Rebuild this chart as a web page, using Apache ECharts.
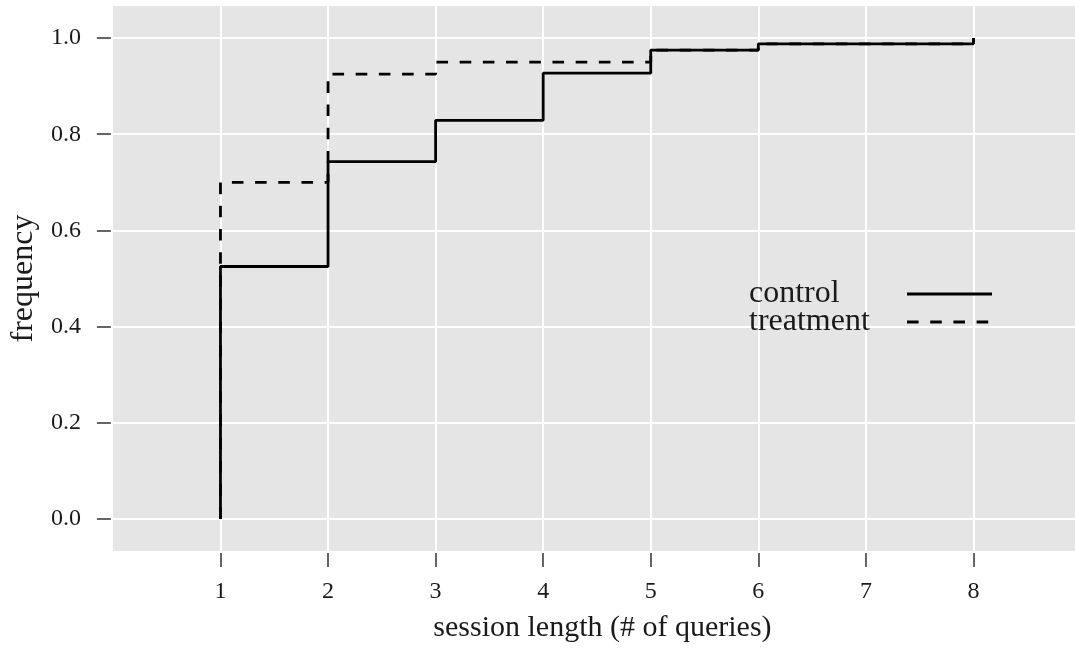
<!DOCTYPE html>
<html>
<head>
<meta charset="utf-8">
<script src="https://cdn.jsdelivr.net/npm/echarts@6/dist/echarts.min.js"></script>
<style>
  html, body { margin: 0; padding: 0; background: #ffffff; }
  #chart { width: 1075px; height: 649px; }
</style>
</head>
<body>
<div id="chart"></div>
<script>
// Cumulative share of sessions by session length (number of queries)
const sessionLength = [1, 2, 3, 4, 5, 6, 7, 8];
const controlCdf   = [0.525, 0.743, 0.829, 0.927, 0.975, 0.988, 0.988, 1.0];
const treatmentCdf = [0.700, 0.925, 0.950, 0.950, 0.975, 0.988, 0.988, 1.0];
const xTicks = [1, 2, 3, 4, 5, 6, 7, 8];
const yTicks = [0, 0.2, 0.4, 0.6, 0.8, 1.0];

// step path starts from zero at the first session length
function ecdfPoints(xs, ys) {
  const pts = [[xs[0], 0]];
  xs.forEach((x, i) => pts.push([x, ys[i]]));
  return pts;
}

const FONT = '"Liberation Serif", "DejaVu Serif", serif';
const TEXT = '#1a1a1a';
const TICK = '#333333';

const chart = echarts.init(document.getElementById('chart'), null, { renderer: 'canvas' });

chart.setOption({
  animation: false,
  backgroundColor: '#ffffff',
  textStyle: { fontFamily: FONT },
  grid: {
    left: 112, top: 6, right: 0, bottom: 98,
    show: true, backgroundColor: '#E5E5E5', borderWidth: 0
  },
  legend: {
    orient: 'vertical',
    left: 744, top: 273,
    align: 'right',
    itemWidth: 85, itemHeight: 14, itemGap: -4,
    padding: 5,
    data: ['control', 'treatment'],
    formatter: name => '{a|' + name + '}',
    // keys drawn as plain line samples, without point markers
    itemStyle: { opacity: 0, borderWidth: 0 },
    lineStyle: { width: 2.8 },
    textStyle: {
      fontFamily: FONT, fontSize: 32, color: TEXT,
      rich: { a: { fontFamily: FONT, fontSize: 32, color: TEXT, width: 153, align: 'left' } }
    }
  },
  xAxis: {
    type: 'value',
    min: 0, max: 8.944,
    offset: 2,
    name: 'session length (# of queries)',
    nameLocation: 'middle',
    nameGap: 60,
    nameTextStyle: { fontFamily: FONT, fontSize: 30, color: TEXT, padding: [0, 0, 0, 17] },
    axisLine: { show: false, onZero: false },
    axisTick: { show: true, length: 14, customValues: xTicks, lineStyle: { color: TICK, width: 1.5 } },
    axisLabel: { customValues: xTicks, margin: 27, fontFamily: FONT, fontSize: 24, color: TEXT },
    splitLine: { show: true, lineStyle: { color: '#ffffff', width: 2 } }
  },
  yAxis: {
    type: 'value',
    min: -0.0667, max: 1.0667,
    offset: 2,
    name: 'frequency',
    nameLocation: 'middle',
    nameGap: 70,
    nameTextStyle: { fontFamily: FONT, fontSize: 32, color: TEXT },
    axisLine: { show: false, onZero: false },
    axisTick: { show: true, length: 14, customValues: yTicks, lineStyle: { color: TICK, width: 1.5 } },
    axisLabel: {
      customValues: yTicks, margin: 30, fontFamily: FONT, fontSize: 24, color: TEXT,
      formatter: v => v.toFixed(1)
    },
    splitLine: { show: true, lineStyle: { color: '#ffffff', width: 2 } }
  },
  series: [
    {
      name: 'treatment',
      type: 'line',
      step: 'end',
      symbol: 'none',
      data: ecdfPoints(sessionLength, treatmentCdf),
      lineStyle: { color: '#000000', width: 2.8, type: [11.6, 11.6], cap: 'butt' },
      itemStyle: { color: '#000000' },
      z: 2
    },
    {
      name: 'control',
      type: 'line',
      step: 'end',
      symbol: 'none',
      data: ecdfPoints(sessionLength, controlCdf),
      lineStyle: { color: '#000000', width: 2.8, type: 'solid', cap: 'butt' },
      itemStyle: { color: '#000000' },
      z: 3
    }
  ]
});
</script>
</body>
</html>
